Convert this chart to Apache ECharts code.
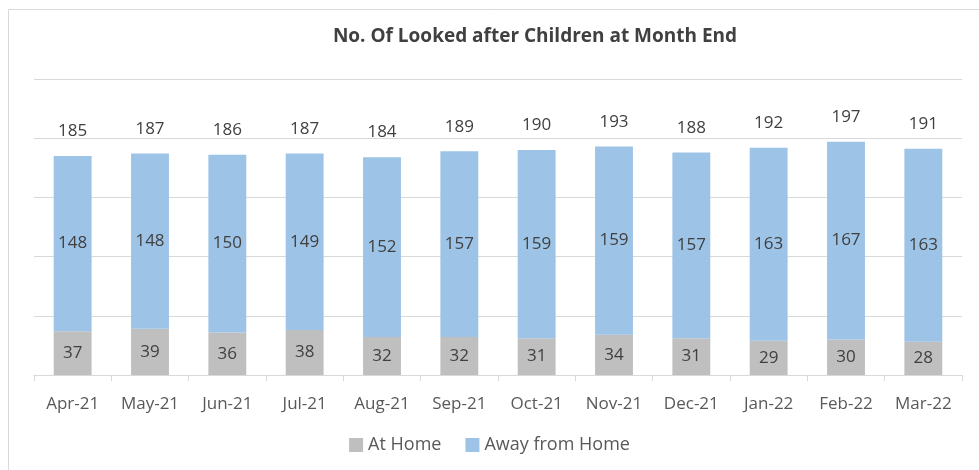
<!DOCTYPE html>
<html>
<head>
<meta charset="utf-8">
<script src="https://cdn.jsdelivr.net/npm/echarts@6/dist/echarts.min.js"></script>
<style>
  html, body { margin: 0; padding: 0; background: #fff; }
  #chart { width: 979px; height: 470px; }
</style>
</head>
<body>
<div id="chart"></div>
<script>
  // months on the x axis
  const months = ['Apr-21', 'May-21', 'Jun-21', 'Jul-21', 'Aug-21', 'Sep-21',
    'Oct-21', 'Nov-21', 'Dec-21', 'Jan-22', 'Feb-22', 'Mar-22'];
  const atHome = [37, 39, 36, 38, 32, 32, 31, 34, 31, 29, 30, 28];
  const awayFromHome = [148, 148, 150, 149, 152, 157, 159, 159, 157, 163, 167, 163];
  const totals = [185, 187, 186, 187, 184, 189, 190, 193, 188, 192, 197, 191];

  const font = '"Open Sans", "Liberation Sans", sans-serif';
  const txt = '#404040';

  const chart = echarts.init(document.getElementById('chart'));
  const option = {
    animation: false,
    textStyle: { fontFamily: font },
    graphic: [{
      type: 'rect',
      shape: { x: 8.5, y: 9.5, width: 1000, height: 500 },
      style: { fill: 'none', stroke: '#d9d9d9', lineWidth: 1 }
    }],
    title: {
      text: 'No. Of Looked after Children at Month End',
      left: 530,
      top: 22,
      textAlign: 'center',
      textStyle: { color: txt, fontSize: 19, fontWeight: 'bold', fontFamily: font }
    },
    legend: {
      data: ['At Home', 'Away from Home'],
      bottom: 11,
      left: 'center',
      itemWidth: 14,
      itemHeight: 14,
      itemGap: 24,
      icon: 'rect',
      textStyle: { color: '#595959', fontSize: 18, fontFamily: font }
    },
    grid: { left: 34, right: 17, top: 79, bottom: 95 },
    xAxis: {
      type: 'category',
      data: months,
      axisLine: { lineStyle: { color: '#d9d9d9' } },
      axisTick: { show: true, interval: 0, length: 6, lineStyle: { color: '#d9d9d9' } },
      axisLabel: { interval: 0, color: '#595959', fontSize: 17, margin: 21, fontFamily: font }
    },
    yAxis: {
      type: 'value',
      min: 0,
      max: 250,
      interval: 50,
      axisLabel: { show: false },
      axisLine: { show: false },
      axisTick: { show: false },
      splitLine: { lineStyle: { color: '#d9d9d9' } }
    },
    series: [
      {
        name: 'At Home',
        type: 'bar',
        stack: 'lac',
        barWidth: '49%',
        itemStyle: { color: '#bfbfbf' },
        label: { show: true, position: 'inside', color: txt, fontSize: 17, fontFamily: font },
        data: atHome
      },
      {
        name: 'Away from Home',
        type: 'bar',
        stack: 'lac',
        itemStyle: { color: '#9dc3e6' },
        label: { show: true, position: 'inside', color: txt, fontSize: 17, fontFamily: font },
        data: awayFromHome
      },
      {
        name: 'Total',
        type: 'bar',
        barGap: '-100%',
        barWidth: '49%',
        z: 1,
        silent: true,
        itemStyle: { color: 'rgba(0,0,0,0)' },
        label: { show: true, position: 'top', distance: 16, color: txt, fontSize: 17, fontFamily: font },
        data: totals
      }
    ]
  };
  chart.setOption(option);
</script>
</body>
</html>
